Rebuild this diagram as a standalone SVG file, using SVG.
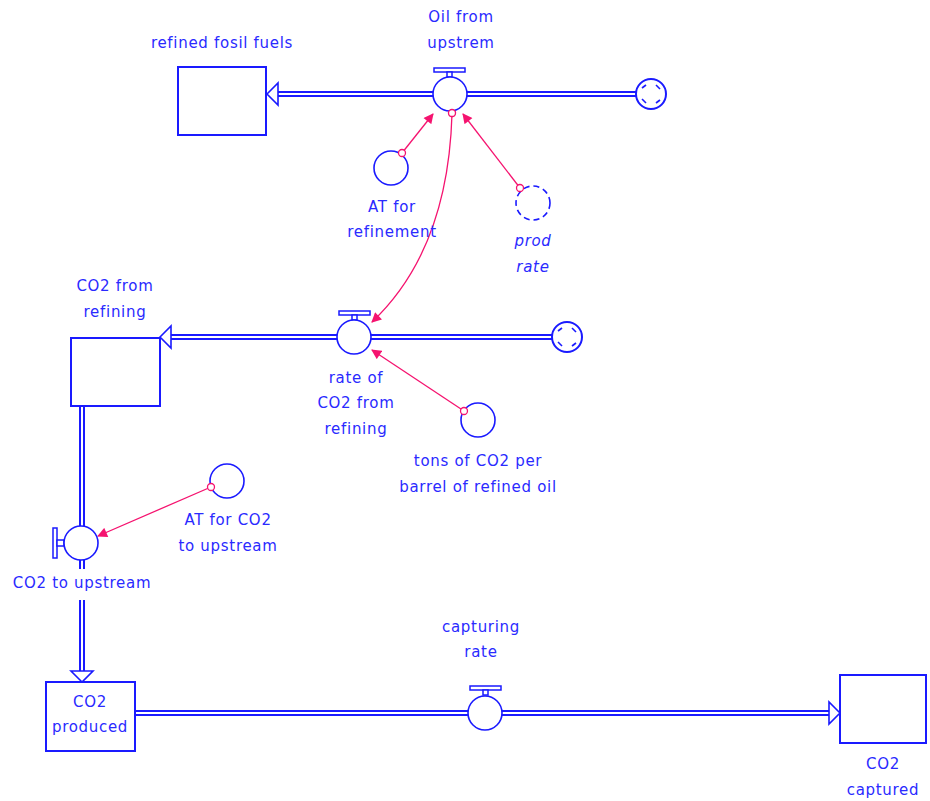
<svg xmlns="http://www.w3.org/2000/svg" width="930" height="801" viewBox="0 0 930 801">
<style>
text{font-family:"DejaVu Sans","Liberation Sans",sans-serif;font-size:15px;fill:#2a2aff;text-anchor:middle;letter-spacing:0.7px}
.stock{fill:#fff;stroke:#1a1aff;stroke-width:2}
.pipeo{fill:none;stroke:#1a1aff;stroke-width:6}
.pipei{fill:none;stroke:#fff;stroke-width:2}
.valve{fill:#fff;stroke:#1a1aff;stroke-width:1.6}
.handle{fill:#fff;stroke:#1a1aff;stroke-width:1.5}
.aux{fill:#fff;stroke:#1a1aff;stroke-width:1.6}
.ghost{fill:#fff;stroke:#1a1aff;stroke-width:1.6;stroke-dasharray:6 4}
.head{fill:#fff;stroke:#1a1aff;stroke-width:1.6}
.cloud{fill:#fff;stroke:#1a1aff;stroke-width:2}
.tick{stroke:#1a1aff;stroke-width:1.6}
.link{fill:none;stroke:#f5136f;stroke-width:1.3;marker-end:url(#ah)}
.orig{fill:#fff;stroke:#f5136f;stroke-width:1.3}
</style>
<defs>
<marker id="ah" viewBox="0 0 10 10" refX="9" refY="5" markerWidth="11" markerHeight="10" markerUnits="userSpaceOnUse" orient="auto">
<path d="M0,0 L10,5 L0,10 Z" fill="#f5136f"/>
</marker>
<g id="cloudshape">
<circle r="15" class="cloud"/>
<line x1="-9" y1="-6" x2="-5" y2="-9" class="tick"/>
<line x1="5" y1="-9" x2="9" y2="-5" class="tick"/>
<line x1="9" y1="6" x2="5" y2="9" class="tick"/>
<line x1="-5" y1="9" x2="-9" y2="5" class="tick"/>
</g>
</defs>
<rect width="930" height="801" fill="#fff"/>

<g id="flows">
<path class="pipeo" d="M636,94 H277"/><path class="pipei" d="M636,94 H277"/>
<polygon class="head" points="267,94 278,83 278,105"/>
<path class="pipeo" d="M552,337 H171"/><path class="pipei" d="M552,337 H171"/>
<polygon class="head" points="160,337 171,326 171,348"/>
<path class="pipeo" d="M82,407 V526"/><path class="pipei" d="M82,407 V526"/>
<path class="pipeo" d="M82,560 V569"/><path class="pipei" d="M82,560 V569"/>
<path class="pipeo" d="M82,600 V671"/><path class="pipei" d="M82,600 V671"/>
<polygon class="head" points="82,682 71,671 93,671"/>
<path class="pipeo" d="M135,713 H830"/><path class="pipei" d="M135,713 H830"/>
<polygon class="head" points="840,713 829,702 829,724"/>
</g>

<g id="connectors">
<path class="link" d="M402,153 L433,114"/>
<path class="link" d="M520,188 L463,114"/>
<path class="link" d="M452,114 Q448,250 372,322"/>
<path class="link" d="M464,411 L372,350"/>
<path class="link" d="M211,487 L98,536"/>
<circle class="orig" cx="452" cy="113" r="3.5"/>
</g>

<g id="refined_fosil_fuels">
<rect class="stock" x="178" y="67" width="88" height="68"/>
<text x="222" y="48">refined fosil fuels</text>
</g>

<g id="oil_from_upstrem">
<rect class="handle" x="434" y="68" width="31" height="4"/>
<rect class="handle" x="447" y="72" width="5" height="5"/>
<circle class="valve" cx="450" cy="94" r="17"/>
<circle class="orig" cx="452" cy="113" r="3.5"/>
<text x="461" y="22">Oil from</text>
<text x="461" y="48">upstrem</text>
</g>

<g id="cloud1"><use href="#cloudshape" x="651" y="94"/></g>

<g id="at_for_refinement">
<circle class="aux" cx="391" cy="168" r="17"/>
<circle class="orig" cx="402" cy="153" r="3.5"/>
<text x="392" y="212">AT for</text>
<text x="392" y="237">refinement</text>
</g>

<g id="prod_rate">
<circle class="ghost" cx="533" cy="203" r="17"/>
<circle class="orig" cx="520" cy="188" r="3.5"/>
<text x="533" y="246" font-style="italic">prod</text>
<text x="533" y="272" font-style="italic">rate</text>
</g>

<g id="co2_from_refining">
<rect class="stock" x="71" y="338" width="89" height="68"/>
<text x="115" y="291">CO2 from</text>
<text x="115" y="317">refining</text>
</g>

<g id="rate_of_co2_from_refining">
<rect class="handle" x="339" y="311" width="31" height="4"/>
<rect class="handle" x="352" y="315" width="5" height="5"/>
<circle class="valve" cx="354" cy="337" r="17"/>
<text x="356" y="383">rate of</text>
<text x="356" y="408">CO2 from</text>
<text x="356" y="434">refining</text>
</g>

<g id="cloud2"><use href="#cloudshape" x="567" y="337"/></g>

<g id="tons_of_co2">
<circle class="aux" cx="478" cy="420" r="17"/>
<circle class="orig" cx="464" cy="411" r="3.5"/>
<text x="478" y="466">tons of CO2 per</text>
<text x="478" y="492">barrel of refined oil</text>
</g>

<g id="co2_to_upstream">
<rect class="handle" x="53" y="528" width="4" height="30"/>
<rect class="handle" x="57" y="540" width="7" height="6"/>
<circle class="valve" cx="81" cy="543" r="17"/>
<text x="82" y="588">CO2 to upstream</text>
</g>

<g id="at_for_co2_to_upstream">
<circle class="aux" cx="227" cy="481" r="17"/>
<circle class="orig" cx="211" cy="487" r="3.5"/>
<text x="228" y="525">AT for CO2</text>
<text x="228" y="551">to upstream</text>
</g>

<g id="co2_produced">
<rect class="stock" x="46" y="682" width="89" height="69"/>
<text x="90" y="707">CO2</text>
<text x="90" y="732">produced</text>
</g>

<g id="capturing_rate">
<rect class="handle" x="470" y="686" width="31" height="4"/>
<rect class="handle" x="483" y="690" width="5" height="5"/>
<circle class="valve" cx="485" cy="713" r="17"/>
<text x="481" y="632">capturing</text>
<text x="481" y="657">rate</text>
</g>

<g id="co2_captured">
<rect class="stock" x="840" y="675" width="86" height="68"/>
<text x="883" y="769">CO2</text>
<text x="883" y="795">captured</text>
</g>
</svg>
